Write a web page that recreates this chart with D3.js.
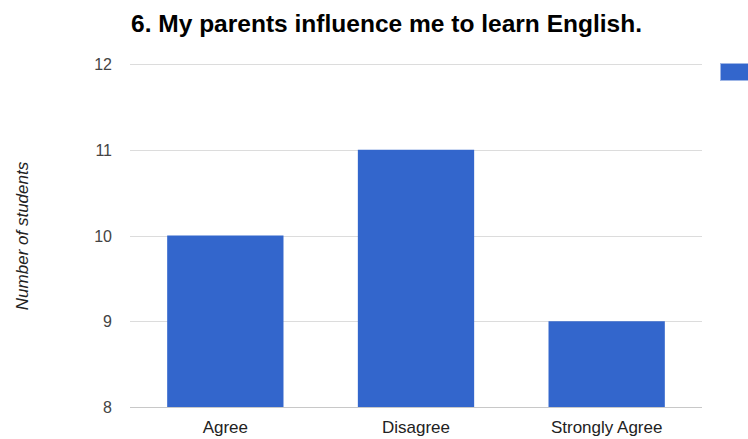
<!DOCTYPE html>
<html>
<head>
<meta charset="utf-8">
<script src="https://cdnjs.cloudflare.com/ajax/libs/d3/7.8.5/d3.min.js"></script>
<style>
  body { margin: 0; background: #fff; }
  svg { display: block; font-family: "Liberation Sans", Arial, sans-serif; }
</style>
</head>
<body>
<svg id="main"></svg>
<script>
// answers and counts
var categories = ["Agree", "Disagree", "Strongly Agree"];
var counts = [10, 11, 9];
var yTicks = [8, 9, 10, 11, 12];
var chartTitle = "6. My parents influence me to learn English.";
var yTitle = "Number of students";

var W = 748, H = 439;
var mLeft = 130, mRight = 702, mTop = 64, mBottom = 407;

var s = d3.select("#main").attr("width", W).attr("height", H);

var x = d3.scaleBand().domain(categories).range([mLeft, mRight]).paddingInner(0.39).paddingOuter(0.195);
var y = d3.scaleLinear().domain([8, 12]).range([mBottom, mTop]);

// gridlines
s.append("g").selectAll("line")
  .data(yTicks).enter()
  .append("line")
  .attr("x1", mLeft).attr("x2", mRight)
  .attr("y1", function(d) { return Math.round(y(d)) + 0.5; })
  .attr("y2", function(d) { return Math.round(y(d)) + 0.5; })
  .attr("stroke", function(d) { return d == 8 ? "#c8c8c8" : "#dcdcdc"; })
  .attr("stroke-width", 1.2);

// bars
s.append("g").selectAll("rect")
  .data(counts).enter()
  .append("rect")
  .attr("x", function(d, i) { return x(categories[i]); })
  .attr("width", x.bandwidth())
  .attr("y", function(d) { return y(d); })
  .attr("height", function(d) { return y(8) - y(d); })
  .attr("fill", "#3366cc");

// y tick labels
s.append("g").selectAll("text")
  .data(yTicks).enter()
  .append("text")
  .attr("x", 112).attr("y", function(d) { return y(d) + 6; })
  .attr("text-anchor", "end")
  .attr("font-size", 16).attr("fill", "#444")
  .text(function(d) { return d; });

// x labels
s.append("g").selectAll("text")
  .data(categories).enter()
  .append("text")
  .attr("x", function(d) { return x(d) + x.bandwidth() / 2; })
  .attr("y", 433)
  .attr("text-anchor", "middle")
  .attr("font-size", 17).attr("fill", "#222")
  .text(function(d) { return d; });

// axis title
s.append("text")
  .attr("transform", "translate(28,236) rotate(-90)")
  .attr("text-anchor", "middle")
  .attr("font-size", 17).attr("font-style", "italic").attr("fill", "#222")
  .text(yTitle);

// title
s.append("text")
  .attr("x", 131).attr("y", 32)
  .attr("font-size", 24).attr("font-weight", "bold").attr("fill", "#000")
  .attr("textLength", 511).attr("lengthAdjust", "spacingAndGlyphs")
  .text(chartTitle);

// legend swatch (cut off at the edge)
s.append("rect")
  .attr("x", 720.5).attr("y", 63.5).attr("width", 30).attr("height", 17)
  .attr("fill", "#3366cc").attr("stroke", "#9fb6e6").attr("stroke-width", 1);
</script>
</body>
</html>
